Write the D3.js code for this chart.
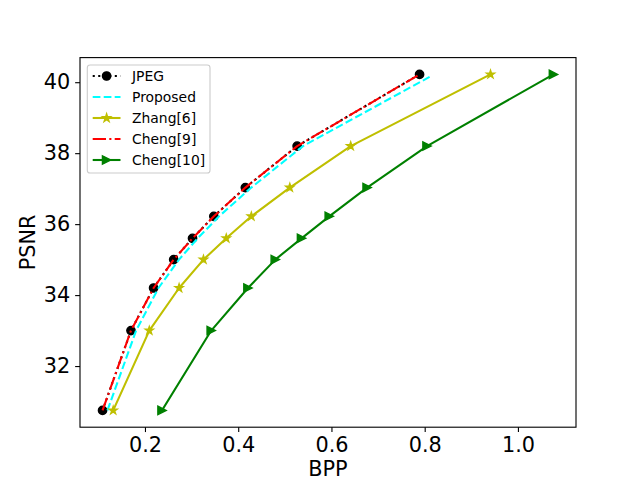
<!DOCTYPE html>
<html><head><meta charset="utf-8">
<script src="https://cdn.jsdelivr.net/npm/d3@7"></script>
<style>body{margin:0;background:#fff} svg{display:block}</style>
</head><body><svg id="c" width="640" height="480"></svg>
<script>
// ---- data ----
const psnr        = [30.75, 33.0, 34.2, 35.0, 35.6, 36.22, 37.03, 38.2, 40.22];
const psnrProp    = [30.75, 33.0, 34.2, 35.0, 35.6, 36.22, 37.03, 38.2, 40.15];
const bppJPEG     = [0.109, 0.170, 0.2185, 0.2616, 0.302, 0.3477, 0.4153, 0.5264, 0.789];
const bppProposed = [0.1195, 0.181, 0.229, 0.273, 0.313, 0.359, 0.428, 0.539, 0.8106];
const bppZhang6   = [0.1318, 0.2093, 0.2732, 0.3255, 0.3744, 0.4282, 0.5107, 0.6413, 0.9412];
const bppCheng9   = [0.109, 0.170, 0.2185, 0.2616, 0.302, 0.3477, 0.4153, 0.5264, 0.789];
const bppCheng10  = [0.2366, 0.3421, 0.4209, 0.4795, 0.5358, 0.5953, 0.6765, 0.805, 1.0762];
const seriesNames = ["JPEG", "Proposed", "Zhang[6]", "Cheng[9]", "Cheng[10]"];
const xTicks = [0.2, 0.4, 0.6, 0.8, 1.0];
const xTickLabels = ["0.2", "0.4", "0.6", "0.8", "1.0"];
const yTicks = [32, 34, 36, 38, 40];
const yTickLabels = ["32", "34", "36", "38", "40"];

// ---- styles ----
const series = [
  {name: seriesNames[0], x: bppJPEG, y: psnr, color: "#000000", dash: "2.08,3.44", marker: "circle"},
  {name: seriesNames[1], x: bppProposed, y: psnrProp, color: "#00ffff", dash: "7.7,3.3", marker: null},
  {name: seriesNames[2], x: bppZhang6, y: psnr, color: "#bfbf00", dash: null, marker: "star"},
  {name: seriesNames[3], x: bppCheng9, y: psnr, color: "#ff0000", dash: "13.3,3.3,2.1,3.3", marker: null},
  {name: seriesNames[4], x: bppCheng10, y: psnr, color: "#008000", dash: null, marker: "tri"}
];

const L = 80, R = 576, T = 57.6, B = 427.2;
const svg = d3.select("#c");
const font = "DejaVu Sans, sans-serif";

const allX = series.flatMap(s => s.x), allY = series.flatMap(s => s.y);
const [x0, x1] = d3.extent(allX), [y0, y1] = d3.extent(allY);
const mx = (x1 - x0) * 0.05, my = (y1 - y0) * 0.05;
const x = d3.scaleLinear().domain([x0 - mx, x1 + mx]).range([L, R]);
const y = d3.scaleLinear().domain([y0 - my, y1 + my]).range([B, T]);

svg.append("rect").attr("x", 0).attr("y", 0).attr("width", 640).attr("height", 480).attr("fill", "#fff");

const ms = 4.17;
function mPath(type) {
  if (type === "circle") return `M${ms},0A${ms},${ms} 0 1,1 ${-ms},0A${ms},${ms} 0 1,1 ${ms},0Z`;
  if (type === "star") {
    const pts = [];
    for (let i = 0; i < 10; i++) {
      const r = i % 2 === 0 ? ms : ms * 0.381966;
      const a = -Math.PI / 2 + i * Math.PI / 5;
      pts.push([r * Math.cos(a), r * Math.sin(a)]);
    }
    return "M" + pts.map(p => p.join(",")).join("L") + "Z";
  }
  if (type === "tri") return `M${-ms},${-ms}L${ms},0L${-ms},${ms}Z`;
  return null;
}

const line = d3.line().x(d => x(d[0])).y(d => y(d[1]));
const plot = svg.append("g");
series.forEach(s => {
  const pts = s.x.map((v, i) => [v, s.y[i]]);
  plot.append("path").attr("d", line(pts)).attr("fill", "none")
    .attr("stroke", s.color).attr("stroke-width", 2.08)
    .attr("stroke-dasharray", s.dash).attr("stroke-linejoin", "round").attr("stroke-linecap", s.dash ? "butt" : "square");
  if (s.marker) {
    plot.selectAll(null).data(pts).enter().append("path")
      .attr("d", mPath(s.marker))
      .attr("transform", d => `translate(${x(d[0])},${y(d[1])})`)
      .attr("fill", s.color).attr("stroke", s.color).attr("stroke-width", 1.39).attr("stroke-linejoin", "miter");
  }
});

// axes frame
svg.append("rect").attr("x", L).attr("y", T).attr("width", R - L).attr("height", B - T)
  .attr("fill", "none").attr("stroke", "#000").attr("stroke-width", 1.11);

// x axis
const xa = svg.append("g").attr("transform", `translate(0,${B})`)
  .call(d3.axisBottom(x).tickValues(xTicks).tickFormat((d, i) => xTickLabels[i]).tickSizeOuter(0).tickSize(4.86).tickPadding(4.86));
xa.select(".domain").remove();
xa.selectAll("line").attr("stroke-width", 1.11);
xa.selectAll("text").attr("font-family", font).attr("font-size", 20.8).attr("fill", "#000");

const ya = svg.append("g").attr("transform", `translate(${L},0)`)
  .call(d3.axisLeft(y).tickValues(yTicks).tickFormat((d, i) => yTickLabels[i]).tickSizeOuter(0).tickSize(4.86).tickPadding(4.86));
ya.select(".domain").remove();
ya.selectAll("line").attr("stroke-width", 1.11);
ya.selectAll("text").attr("font-family", font).attr("font-size", 20.8).attr("fill", "#000");

svg.append("text").attr("x", (L + R) / 2).attr("y", 476).attr("text-anchor", "middle")
  .attr("font-family", font).attr("font-size", 20.8).text("BPP");
svg.append("text").attr("transform", `translate(35,${(T + B) / 2}) rotate(-90)`).attr("text-anchor", "middle")
  .attr("font-family", font).attr("font-size", 20.8).text("PSNR");

// legend
const lg = svg.append("g");
lg.append("rect").attr("x", 87.3).attr("y", 65).attr("width", 122.7).attr("height", 108)
  .attr("rx", 2.8).attr("fill", "#fff").attr("fill-opacity", 0.8).attr("stroke", "#cccccc").attr("stroke-width", 1.11);
series.forEach((s, i) => {
  const cy = 76 + i * 21;
  lg.append("line").attr("x1", 92.7).attr("x2", 120.5).attr("y1", cy).attr("y2", cy)
    .attr("stroke", s.color).attr("stroke-width", 2.08).attr("stroke-dasharray", s.dash);
  if (s.marker) lg.append("path").attr("d", mPath(s.marker)).attr("transform", `translate(106.6,${cy})`)
    .attr("fill", s.color).attr("stroke", s.color).attr("stroke-width", 1.39);
  lg.append("text").attr("x", 132).attr("y", cy + 5).attr("font-family", font).attr("font-size", 13.9).text(s.name);
});
</script></body></html>
